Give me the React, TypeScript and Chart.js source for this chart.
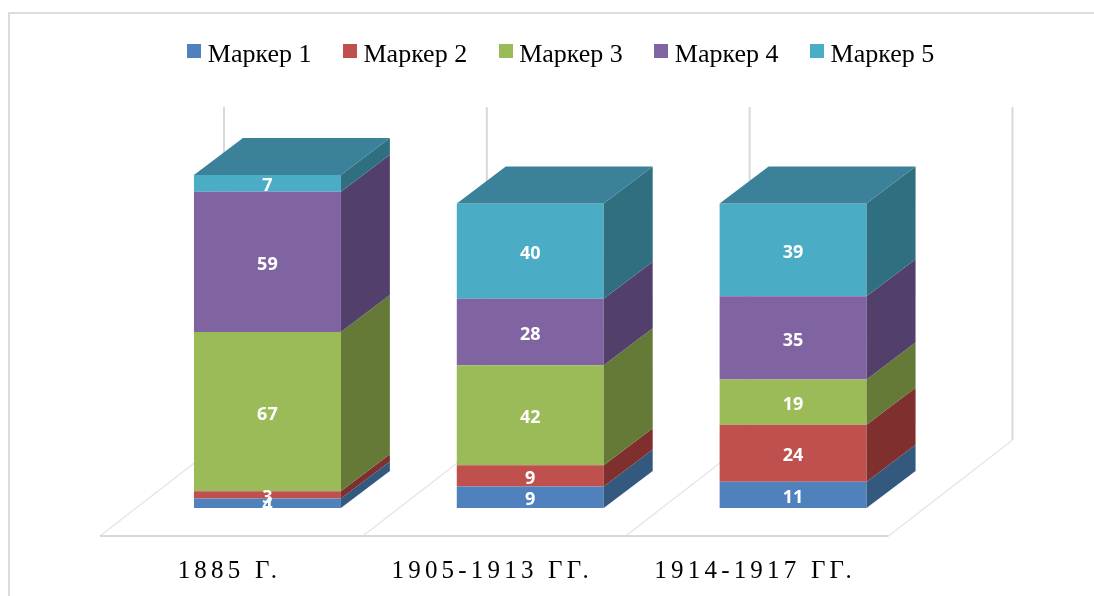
import React, { useEffect, useRef } from "react";
import { Chart, registerables } from "chart.js";

Chart.register(...registerables);

const categories = ["1885 Г.", "1905-1913 ГГ.", "1914-1917 ГГ."];
const marker1 = [4, 9, 11];
const marker2 = [3, 9, 24];
const marker3 = [67, 42, 19];
const marker4 = [59, 28, 35];
const marker5 = [7, 40, 39];
const seriesNames = ["Маркер 1", "Маркер 2", "Маркер 3", "Маркер 4", "Маркер 5"];
const frontColors = ["#4f81bd", "#c0504d", "#9bbb59", "#8064a2", "#4bacc6"];
const sideColors = ["#34597f", "#7f2f2d", "#647a36", "#533f6b", "#2f6f80"];
const topColor = "#3a8199";
const gridColor = "#d9d9d9";

const DEPTH_X = 49;
const DEPTH_Y = 37;
const FLOOR_FRONT = { dx: -36, dy: 28 };
const FLOOR_BACK = { dx: 88, dy: -68 };

const makeSwatch = (color: string) => {
  const c = document.createElement("canvas");
  c.width = 14;
  c.height = 22;
  const g = c.getContext("2d")!;
  g.fillStyle = color;
  g.fillRect(0, 0, 14, 14);
  return c;
};

const chart3d = {
  id: "chart3d",
  afterLayout(chart: any) {
    const legend = chart.legend;
    legend.top = 4;
    legend.bottom = 100;
    const sx = chart.scales.x;
    if (!sx.__spaced) {
      sx.__spaced = true;
      const orig = sx.drawLabels.bind(sx);
      sx.drawLabels = (area: any) => {
        const ctx = chart.ctx;
        ctx.save();
        ctx.letterSpacing = "4.2px";
        orig(area);
        ctx.restore();
      };
    }
  },
  beforeDatasetsDraw(chart: any) {
    const { ctx, chartArea, scales } = chart;
    const { x, y } = scales;
    const bottom = chartArea.bottom;
    const top = y.getPixelForValue(140);
    ctx.save();
    // chart frame
    ctx.strokeStyle = "#dcdcdc";
    ctx.lineWidth = 2;
    ctx.beginPath();
    ctx.moveTo(9, chart.height);
    ctx.lineTo(9, 13);
    ctx.lineTo(chart.width, 13);
    ctx.stroke();
    // floor and walls
    const edges = categories.length;
    for (let i = 0; i <= edges; i++) {
      const px = x.getPixelForValue(i - 0.5);
      ctx.strokeStyle = "#e4e4e4";
      ctx.lineWidth = 1.2;
      ctx.beginPath();
      ctx.moveTo(px + FLOOR_FRONT.dx, bottom + FLOOR_FRONT.dy);
      ctx.lineTo(px + FLOOR_BACK.dx, bottom + FLOOR_BACK.dy);
      ctx.stroke();
      ctx.strokeStyle = gridColor;
      ctx.lineWidth = 2;
      ctx.beginPath();
      ctx.moveTo(px + FLOOR_BACK.dx, bottom + FLOOR_BACK.dy);
      ctx.lineTo(px + FLOOR_BACK.dx, top + FLOOR_BACK.dy);
      ctx.stroke();
    }
    ctx.strokeStyle = gridColor;
    ctx.lineWidth = 2;
    ctx.beginPath();
    ctx.moveTo(x.getPixelForValue(-0.5) + FLOOR_FRONT.dx, bottom + FLOOR_FRONT.dy);
    ctx.lineTo(x.getPixelForValue(edges - 0.5) + FLOOR_FRONT.dx, bottom + FLOOR_FRONT.dy);
    ctx.stroke();
    ctx.restore();
  },
  afterDatasetsDraw(chart: any) {
    const { ctx } = chart;
    ctx.save();
    const count = chart.data.datasets.length;
    for (let d = 0; d < count; d++) {
      const meta = chart.getDatasetMeta(d);
      meta.data.forEach((bar: any) => {
        const p = bar.getProps(["x", "y", "base", "width"], true);
        const r = p.x + p.width / 2;
        ctx.fillStyle = sideColors[d];
        ctx.beginPath();
        ctx.moveTo(r, p.base);
        ctx.lineTo(r + DEPTH_X, p.base - DEPTH_Y);
        ctx.lineTo(r + DEPTH_X, p.y - DEPTH_Y);
        ctx.lineTo(r, p.y);
        ctx.closePath();
        ctx.fill();
        if (d === count - 1) {
          const l = p.x - p.width / 2;
          ctx.fillStyle = topColor;
          ctx.beginPath();
          ctx.moveTo(l, p.y);
          ctx.lineTo(r, p.y);
          ctx.lineTo(r + DEPTH_X, p.y - DEPTH_Y);
          ctx.lineTo(l + DEPTH_X, p.y - DEPTH_Y);
          ctx.closePath();
          ctx.fill();
        }
      });
    }
    ctx.fillStyle = "#ffffff";
    ctx.font = "bold 18px 'Open Sans'";
    ctx.textAlign = "center";
    ctx.textBaseline = "middle";
    for (let d = count - 1; d >= 0; d--) {
      const meta = chart.getDatasetMeta(d);
      meta.data.forEach((bar: any, i: number) => {
        const p = bar.getProps(["x", "y", "base"], true);
        ctx.fillText(String(chart.data.datasets[d].data[i]), p.x, (p.y + p.base) / 2 + 3);
      });
    }
    ctx.restore();
  },
};

export default function App() {
  const ref = useRef<HTMLCanvasElement>(null);
  useEffect(() => {
    const series = [marker1, marker2, marker3, marker4, marker5];
    const swatches = frontColors.map(makeSwatch);
    const chart = new Chart(ref.current!, {
      type: "bar",
      data: {
        labels: categories,
        datasets: series.map((data, i) => ({
          label: seriesNames[i],
          data,
          backgroundColor: frontColors[i],
          borderWidth: 0,
          barPercentage: 1,
          categoryPercentage: 0.559,
        })),
      },
      plugins: [chart3d],
      options: {
        animation: false,
        responsive: false,
        layout: { padding: { top: 115, left: 34, right: 0, bottom: 0 } },
        plugins: {
          tooltip: { enabled: false },
          legend: {
            position: "top",
            maxHeight: 60,
            labels: {
              usePointStyle: true,
              pointStyleWidth: 1,
              padding: 38,
              color: "#000000",
              font: { family: "'Liberation Serif'", size: 26 },
              generateLabels: (c: any) =>
                c.data.datasets.map((ds: any, i: number) => ({
                  text: ds.label,
                  fillStyle: frontColors[i],
                  strokeStyle: frontColors[i],
                  lineWidth: 0,
                  pointStyle: swatches[i],
                  datasetIndex: i,
                  hidden: false,
                })),
            },
          },
        },
        scales: {
          x: {
            stacked: true,
            grid: { display: false },
            border: { display: false },
            afterFit: (s: any) => {
              s.height = 88;
            },
            ticks: {
              padding: 40,
              labelOffset: -38,
              maxRotation: 0,
              autoSkip: false,
              color: "#000000",
              font: { family: "'Liberation Serif'", size: 25 },
            },
          },
          y: {
            stacked: true,
            min: 0,
            max: 140,
            grid: { display: false },
            border: { display: false },
            ticks: { display: false },
            afterFit: (s: any) => {
              s.width = 102;
            },
          },
          yRight: {
            position: "right",
            grid: { display: false },
            border: { display: false },
            ticks: { display: false },
            afterFit: (s: any) => {
              s.width = 169.5;
            },
          },
        },
      },
    } as any);
    return () => chart.destroy();
  }, []);
  return (
    <canvas
      ref={ref}
      width={1094}
      height={596}
      style={{ position: "fixed", left: 0, top: 0, width: 1094, height: 596, background: "#ffffff" }}
    />
  );
}
